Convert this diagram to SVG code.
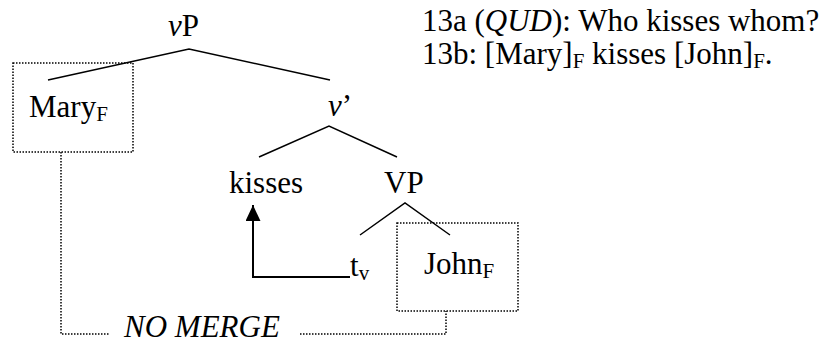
<svg xmlns="http://www.w3.org/2000/svg" width="831" height="349" viewBox="0 0 831 349">
<style>
.t{font-family:'Liberation Serif','Tinos','DejaVu Serif','Times New Roman',serif;font-size:31px;fill:#000}
.it{font-style:italic}
.sub{font-size:21px}
.tree{stroke:#000;stroke-width:1.5;fill:none}
.dot{stroke:#000;stroke-width:1.5;stroke-dasharray:1.5 1.5;fill:none}
.mv{stroke:#000;stroke-width:2;fill:none}
</style>
<defs>
<marker id="ah" viewBox="0 0 16 15" refX="16" refY="7.5" markerWidth="16" markerHeight="15" markerUnits="userSpaceOnUse" orient="auto">
<path d="M0,0 L16,7.5 L0,15 z" fill="#000"/>
</marker>
</defs>
<g id="examples">
<text class="t" x="422" y="31">13a (<tspan class="it">QUD</tspan>): Who kisses whom?</text>
<text class="t" x="422" y="64">13b: [Mary]<tspan class="sub" dy="4">F</tspan><tspan dy="-4"> kisses [John]</tspan><tspan class="sub" dy="4">F</tspan><tspan dy="-4">.</tspan></text>
</g>
<g id="node-vP"><text class="t" x="168" y="36"><tspan class="it">v</tspan>P</text></g>
<g id="node-Mary">
<rect class="dot" x="13" y="63" width="120" height="89"/>
<text class="t" x="29" y="117">Mary<tspan class="sub" dy="4">F</tspan></text>
</g>
<g id="node-vbar"><text class="t" x="328" y="116"><tspan class="it">v</tspan>’</text></g>
<g id="node-kisses"><text class="t" x="229" y="193">kisses</text></g>
<g id="node-VP"><text class="t" x="384" y="193">VP</text></g>
<g id="node-tv"><text class="t" x="350" y="276">t<tspan class="sub" dy="4">v</tspan></text></g>
<g id="node-John">
<rect class="dot" x="397" y="223" width="121" height="88"/>
<text class="t" x="424" y="274">John<tspan class="sub" dy="4">F</tspan></text>
</g>
<g id="node-nomerge"><text class="t it" x="124" y="337">NO MERGE</text></g>
<g id="connectors">
<path class="tree" d="M48,80 L189,49 L330,80"/>
<path class="tree" d="M259,157 L329,126 L397,157"/>
<path class="tree" d="M360,235 L405,203 L450,235"/>
<path class="mv" d="M350,277 L253,277 L253,205" marker-end="url(#ah)"/>
<path class="dot" d="M61,152 L61,334 L110,334"/>
<path class="dot" d="M300,334 L446,334 L446,311"/>
</g>
</svg>
